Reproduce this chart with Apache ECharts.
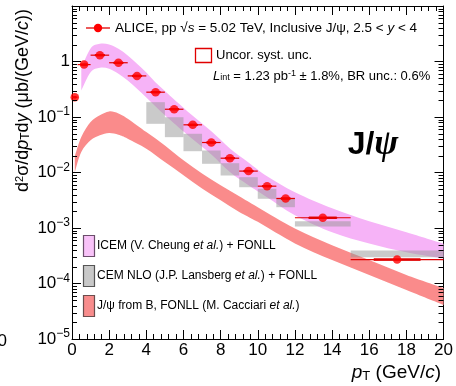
<!DOCTYPE html>
<html>
<head>
<meta charset="utf-8">
<script src="https://cdn.jsdelivr.net/npm/echarts@6/dist/echarts.min.js"></script>
<style>
html,body{margin:0;padding:0;background:#fff;}
#c{width:456px;height:386px;}
</style>
</head>
<body>
<div id="c"></div>
<script>
// ALICE inclusive J/psi cross section, pp at 5.02 TeV, 2.5 < y < 4
const binLow   = [0, 0.3, 1, 2, 3, 4, 5, 6, 7, 8, 9, 10, 11, 12, 15];
const binHigh  = [0.3, 1, 2, 3, 4, 5, 6, 7, 8, 9, 10, 11, 12, 15, 20];
const ptCenter = [0.15, 0.65, 1.5, 2.5, 3.5, 4.5, 5.5, 6.5, 7.5, 8.5, 9.5, 10.5, 11.5, 13.5, 17.5];
const sigma    = [0.227, 0.88, 1.30, 0.95, 0.55, 0.28, 0.138, 0.0723, 0.0347, 0.0181, 0.0106, 0.00567, 0.0034, 0.00153, 0.00027];
const systRel  = [0.03, 0.03, 0.03, 0.03, 0.03, 0.03, 0.03, 0.03, 0.03, 0.03, 0.03, 0.03, 0.03, 0.03, 0.03];

// ICEM + FONLL band
const icemX  = [0.5, 1.0, 1.5, 2.0, 2.5, 3.0, 3.5, 4.0, 4.5, 5.0, 5.5, 6.5, 7.5, 8.5, 9.5, 10.5, 12, 14, 16, 18, 20];
const icemHi = [0.748, 1.71, 2.08, 2.02, 1.69, 1.28, 0.909, 0.634, 0.419, 0.295, 0.207, 0.105, 0.0551, 0.0272, 0.0152, 0.00855, 0.00441, 0.00227, 0.00132, 0.00084, 0.000522];
const icemLo = [0.301, 0.642, 0.770, 0.739, 0.601, 0.455, 0.323, 0.225, 0.155, 0.107, 0.0767, 0.0398, 0.0212, 0.0102, 0.00589, 0.00358, 0.00170, 0.00084, 0.000526, 0.000367, 0.000281];

// CEM NLO + FONLL, per bin
const cemLow  = [4, 5, 6, 7, 8, 9, 10, 11, 12, 15];
const cemHigh = [5, 6, 7, 8, 9, 10, 11, 12, 15, 20];
const cemMax  = [0.185, 0.099, 0.0498, 0.0249, 0.0147, 0.00823, 0.00508, 0.0035, 0.00133, 0.000393];
const cemMin  = [0.0754, 0.0433, 0.0242, 0.01435, 0.00883, 0.00543, 0.00336, 0.00237, 0.00106, 0.000298];

// Non-prompt J/psi from B, FONLL band
const fonllX  = [0.15, 0.5, 1.0, 1.5, 2.0, 2.5, 3, 4, 5, 6, 7, 8, 9, 10, 12, 14, 16, 18, 20];
const fonllHi = [0.0196, 0.0435, 0.0810, 0.107, 0.126, 0.116, 0.0932, 0.0535, 0.0308, 0.0166, 0.00955, 0.00589, 0.00373, 0.00237, 0.00098, 0.000491, 0.000264, 0.000142, 0.0000826];
const fonllLo = [0.0101, 0.0234, 0.0380, 0.0467, 0.0513, 0.0477, 0.0407, 0.0269, 0.0154, 0.00891, 0.00513, 0.00316, 0.00195, 0.00129, 0.000526, 0.000264, 0.000142, 0.000076, 0.0000409];

const xTicks = [0, 2, 4, 6, 8, 10, 12, 14, 16, 18, 20];
const minorMant = [2, 3, 4, 5, 6, 7, 8, 9];
const decades = [-5, -4, -3, -2, -1, 0];

const FONT = '"Liberation Sans", Arial, Helvetica, sans-serif';
const SERIF = '"Liberation Serif", "DejaVu Serif", serif';
const PINK = '#f6b3f7';
const SALMON = '#fa8b8b';
const GREY = 'rgba(150,150,150,0.5)';

// Catmull-Rom segments through pixel points (drawing only)
function smoothSegs(pts) {
  let d = '';
  for (let i = 0; i < pts.length - 1; i++) {
    const p0 = pts[i - 1] || pts[i], p1 = pts[i], p2 = pts[i + 1], p3 = pts[i + 2] || pts[i + 1];
    const c1x = p1[0] + (p2[0] - p0[0]) / 6, c1y = p1[1] + (p2[1] - p0[1]) / 6;
    const c2x = p2[0] - (p3[0] - p1[0]) / 6, c2y = p2[1] - (p3[1] - p1[1]) / 6;
    d += ' C' + c1x + ',' + c1y + ' ' + c2x + ',' + c2y + ' ' + p2[0] + ',' + p2[1];
  }
  return d;
}
function bandSeries(xs, lo, hi, color, z) {
  return {
    type: 'custom', z: z, silent: true,
    data: xs.map((x, i) => [x, lo[i], hi[i]]),
    encode: { x: 0, y: [1, 2] },
    renderItem: function (params, api) {
      if (params.dataIndex !== 0) return null;
      const up = xs.map((x, i) => api.coord([x, hi[i]]));
      const dn = xs.map((x, i) => api.coord([x, lo[i]])).reverse();
      const d = 'M' + up[0][0] + ',' + up[0][1] + smoothSegs(up) +
        ' L' + dn[0][0] + ',' + dn[0][1] + smoothSegs(dn) + ' Z';
      return { type: 'path', shape: { pathData: d }, style: { fill: color, stroke: null } };
    }
  };
}

const supStyle = { fontSize: 12, fontFamily: FONT, color: '#000', verticalAlign: 'top', lineHeight: 12 };

const chart = echarts.init(document.getElementById('c'));
const option = {
  animation: false,
  backgroundColor: '#fff',
  grid: { left: 72, right: 11, top: 6, bottom: 47, containLabel: false },
  xAxis: [{
    type: 'value', min: 0, max: 20, interval: 2, position: 'bottom',
    axisLine: { show: true, onZero: false, lineStyle: { color: '#000', width: 1 } },
    axisTick: { show: true, inside: true, length: 9, lineStyle: { color: '#000' } },
    minorTick: { show: true, splitNumber: 5, length: 5, lineStyle: { color: '#000' } },
    axisLabel: { fontSize: 17, fontFamily: FONT, color: '#000', margin: 3,
      formatter: v => (xTicks.indexOf(v) >= 0 ? String(v) : '') },
    splitLine: { show: false }
  }, {
    type: 'value', min: 0, max: 20, interval: 2, position: 'top',
    axisLine: { show: true, onZero: false, lineStyle: { color: '#000', width: 1 } },
    axisTick: { show: true, inside: true, length: 9, lineStyle: { color: '#000' } },
    minorTick: { show: true, splitNumber: 5, length: 5, lineStyle: { color: '#000' } },
    axisLabel: { show: false }, splitLine: { show: false }
  }],
  yAxis: [{
    type: 'log', logBase: 10, min: 1e-5, max: 10, position: 'left',
    axisLine: { show: true, onZero: false, lineStyle: { color: '#000', width: 1 } },
    axisTick: { show: true, inside: true, length: 9, lineStyle: { color: '#000' } },
    axisLabel: {
      margin: 2, fontSize: 17, fontFamily: FONT, color: '#000', lineHeight: 22,
      formatter: function (v) {
        const e = Math.round(Math.log10(v));
        if (e === 0) return '1';
        if (e > 0) return '';
        return '10{sup|\u2212' + (-e) + '}';
      },
      rich: { sup: supStyle }
    },
    splitLine: { show: false }
  }, {
    type: 'log', logBase: 10, min: 1e-5, max: 10, position: 'right',
    axisLine: { show: true, onZero: false, lineStyle: { color: '#000', width: 1 } },
    axisTick: { show: true, inside: true, length: 9, lineStyle: { color: '#000' } },
    axisLabel: { show: false }, splitLine: { show: false }
  }],
  series: [
    bandSeries(icemX, icemLo, icemHi, PINK, 1),
    bandSeries(fonllX, fonllLo, fonllHi, SALMON, 1),
    {
      // CEM NLO boxes
      type: 'custom', z: 2, silent: true,
      data: cemLow.map((l, i) => [l, cemHigh[i], cemMin[i], cemMax[i]]),
      encode: { x: [0, 1], y: [2, 3] },
      renderItem: function (params, api) {
        const a = api.coord([api.value(0), api.value(3)]);
        const b = api.coord([api.value(1), api.value(2)]);
        return { type: 'rect', shape: { x: a[0], y: a[1], width: b[0] - a[0], height: b[1] - a[1] },
          style: { fill: GREY, stroke: null } };
      }
    },
    {
      // minor ticks of the logarithmic axes
      type: 'custom', z: 5, silent: true, xAxisIndex: 0, yAxisIndex: 0,
      data: decades.flatMap(e => minorMant.map(m => [0, m * Math.pow(10, e)])),
      renderItem: function (params, api) {
        const cs = params.coordSys;
        const y = Math.round(api.coord([0, api.value(1)])[1]) + 0.5;
        return { type: 'group', children: [
          { type: 'line', shape: { x1: cs.x, y1: y, x2: cs.x + 5, y2: y }, style: { stroke: '#000', lineWidth: 1 } },
          { type: 'line', shape: { x1: cs.x + cs.width - 5, y1: y, x2: cs.x + cs.width, y2: y }, style: { stroke: '#000', lineWidth: 1 } }
        ] };
      }
    },
    {
      // horizontal bin-width bars
      type: 'custom', z: 3, silent: true,
      data: ptCenter.map((c, i) => [binLow[i], binHigh[i], sigma[i]]),
      encode: { x: [0, 1], y: 2 },
      renderItem: function (params, api) {
        const a = api.coord([api.value(0), api.value(2)]);
        const b = api.coord([api.value(1), api.value(2)]);
        return { type: 'line', shape: { x1: a[0], y1: a[1], x2: b[0], y2: b[1] },
          style: { stroke: '#e00000', lineWidth: 1.2 } };
      }
    },
    {
      // uncorrelated systematic boxes
      type: 'custom', z: 3, silent: true,
      data: ptCenter.map((c, i) => [c, (binHigh[i] - binLow[i]) / 4, sigma[i], systRel[i]]),
      encode: { x: 0, y: 2 },
      renderItem: function (params, api) {
        const c = api.value(0), hw = api.value(1), s = api.value(2), r = api.value(3);
        const a = api.coord([c - hw, s * (1 + r)]);
        const b = api.coord([c + hw, s * (1 - r)]);
        return { type: 'rect', shape: { x: a[0], y: a[1], width: b[0] - a[0], height: b[1] - a[1] },
          style: { fill: '#e00000', stroke: '#e00000', lineWidth: 1 } };
      }
    },
    {
      type: 'scatter', z: 4, silent: true,
      data: ptCenter.map((c, i) => [c, sigma[i]]),
      symbol: 'circle', symbolSize: 8.5,
      itemStyle: { color: '#ff0000', borderWidth: 0 }
    }
  ],
  graphic: [
    // y-axis title
    {
      type: 'text', x: 23, y: 9, rotation: Math.PI / 2, silent: true,
      style: {
        text: 'd{sup|2}σ/d{i|p}{sub|T}d{i|y} (μb/(GeV/{i|c}))',
        font: '18px ' + FONT, fill: '#000', align: 'right', verticalAlign: 'middle',
        rich: {
          sup: { fontSize: 11, fontFamily: FONT, verticalAlign: 'top', lineHeight: 11 },
          sub: { fontSize: 12, fontFamily: FONT, verticalAlign: 'bottom', lineHeight: 12 },
          i: { fontSize: 18, fontFamily: FONT, fontStyle: 'italic' }
        }
      }
    },
    // x-axis title
    {
      type: 'text', x: 441, y: 373, silent: true,
      style: {
        text: '{i|p}{sub|T} (GeV/{i|c})', font: '19px ' + FONT, fill: '#000',
        align: 'right', verticalAlign: 'middle',
        rich: {
          i: { fontSize: 19, fontFamily: FONT, fontStyle: 'italic' },
          sub: { fontSize: 13, fontFamily: FONT, verticalAlign: 'bottom', lineHeight: 13 }
        }
      }
    },
    // neighbouring axis label at the left edge
    { type: 'text', x: 7, y: 341, silent: true,
      style: { text: '0', font: '17px ' + FONT, fill: '#000', align: 'right', verticalAlign: 'middle' } },
    // data legend entry
    { type: 'line', silent: true, shape: { x1: 86, y1: 28, x2: 110, y2: 28 }, style: { stroke: '#e00000', lineWidth: 1.3 } },
    { type: 'circle', silent: true, shape: { cx: 98, cy: 28, r: 4.2 }, style: { fill: '#ff0000' } },
    {
      type: 'text', x: 115, y: 28, silent: true,
      style: {
        text: 'ALICE, pp \u221A{i|s} = 5.02 TeV, Inclusive J/\u03C8, 2.5 < {i|y} < 4',
        font: '13.5px ' + FONT, fill: '#000', align: 'left', verticalAlign: 'middle',
        rich: { i: { fontSize: 13.5, fontFamily: FONT, fontStyle: 'italic' } }
      }
    },
    { type: 'rect', silent: true, shape: { x: 195.5, y: 48.5, width: 16, height: 14 }, style: { fill: null, stroke: '#e00000', lineWidth: 1.3 } },
    { type: 'text', x: 216, y: 55, silent: true,
      style: { text: 'Uncor. syst. unc.', font: '13px ' + FONT, fill: '#000', align: 'left', verticalAlign: 'middle' } },
    {
      type: 'text', x: 213, y: 76, silent: true,
      style: {
        text: '{i|L}{sub|int} = 1.23 pb{sup|-1} \u00B1 1.8%, BR unc.: 0.6%',
        font: '13px ' + FONT, fill: '#000', align: 'left', verticalAlign: 'middle',
        rich: {
          i: { fontSize: 13, fontFamily: FONT, fontStyle: 'italic' },
          sub: { fontSize: 9, fontFamily: FONT, verticalAlign: 'bottom', lineHeight: 9 },
          sup: { fontSize: 9, fontFamily: FONT, verticalAlign: 'top', lineHeight: 9 }
        }
      }
    },
    // particle label
    {
      type: 'text', x: 373, y: 145, silent: true,
      style: {
        text: 'J/{i|\u03C8}', font: 'bold 32px ' + FONT, fill: '#000', align: 'center', verticalAlign: 'middle',
        rich: { i: { fontSize: 36, fontFamily: SERIF, fontWeight: 'bold', fontStyle: 'italic' } }
      }
    },
    // model legend
    { type: 'rect', silent: true, shape: { x: 83.5, y: 235.5, width: 11, height: 21 }, style: { fill: '#f8c2f8', stroke: '#6b4d6b', lineWidth: 1.2 } },
    { type: 'rect', silent: true, shape: { x: 83.5, y: 265.5, width: 11, height: 21 }, style: { fill: '#c8c8c8', stroke: '#555', lineWidth: 1.2 } },
    { type: 'rect', silent: true, shape: { x: 83.5, y: 295.5, width: 11, height: 21 }, style: { fill: '#f88c8c', stroke: '#6b4d4d', lineWidth: 1.2 } },
    {
      type: 'text', x: 97, y: 246, silent: true,
      style: { text: 'ICEM (V. Cheung {i|et al.}) + FONLL', font: '12px ' + FONT, fill: '#000', align: 'left', verticalAlign: 'middle',
        rich: { i: { fontSize: 12, fontFamily: FONT, fontStyle: 'italic' } } }
    },
    {
      type: 'text', x: 97, y: 276, silent: true,
      style: { text: 'CEM NLO (J.P. Lansberg {i|et al.}) + FONLL', font: '12px ' + FONT, fill: '#000', align: 'left', verticalAlign: 'middle',
        rich: { i: { fontSize: 12, fontFamily: FONT, fontStyle: 'italic' } } }
    },
    {
      type: 'text', x: 97, y: 306, silent: true,
      style: { text: 'J/\u03C8 from B, FONLL (M. Cacciari {i|et al.})', font: '12px ' + FONT, fill: '#000', align: 'left', verticalAlign: 'middle',
        rich: { i: { fontSize: 12, fontFamily: FONT, fontStyle: 'italic' } } }
    }
  ]
};
chart.setOption(option);
</script>
</body>
</html>
